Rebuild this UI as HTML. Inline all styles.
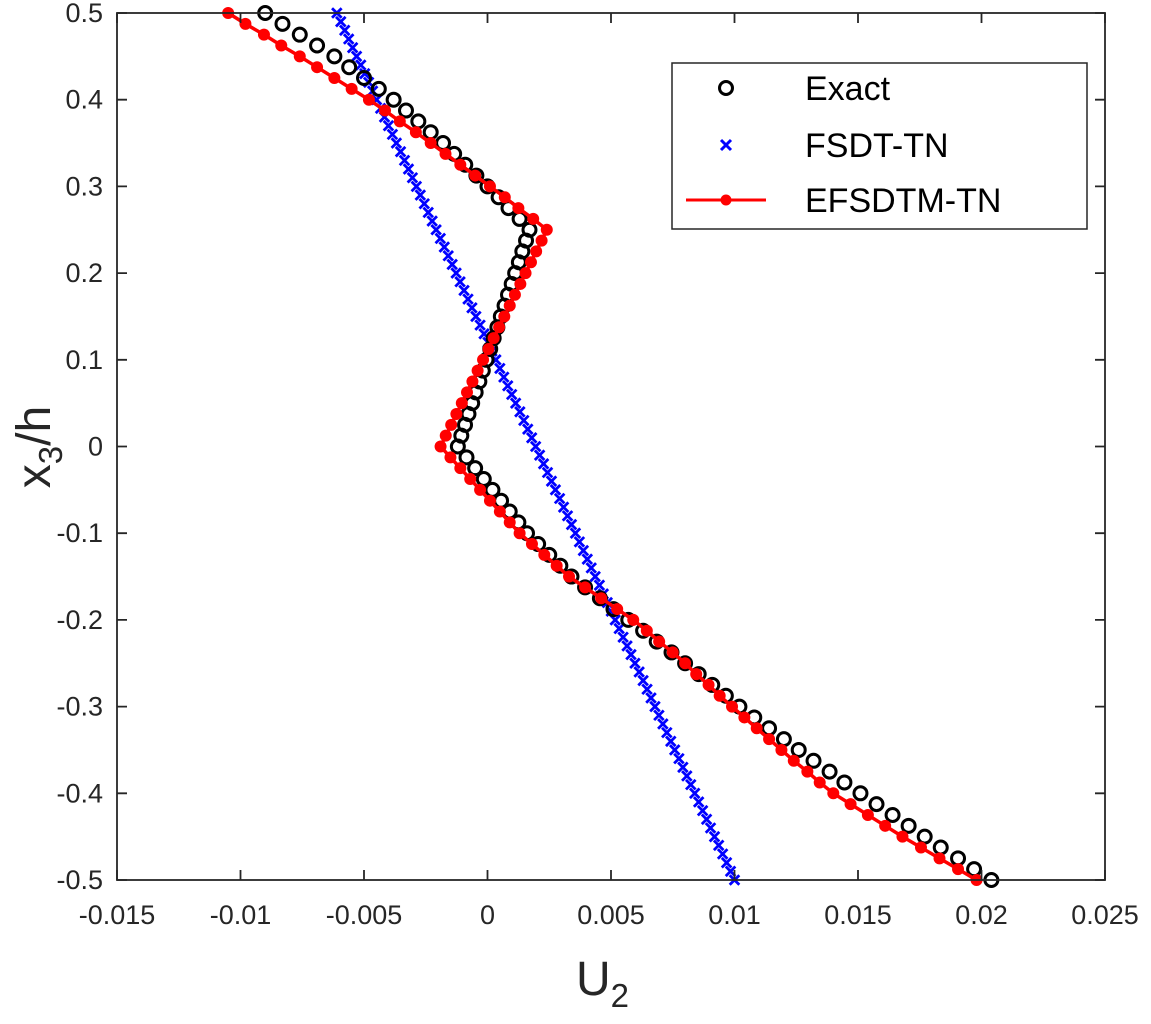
<!DOCTYPE html>
<html><head><meta charset="utf-8">
<style>
html,body{margin:0;padding:0;background:#fff;}
svg{display:block;font-family:"Liberation Sans",Arial,sans-serif;}
</style></head>
<body>
<svg id="chart" width="1151" height="1024" viewBox="0 0 1151 1024" xmlns="http://www.w3.org/2000/svg">
<rect x="0" y="0" width="1151" height="1024" fill="#fff"/>
<g id="plot"></g>
<g id="axes"></g>
<text x="576" y="995" font-size="48" fill="#262626">U<tspan font-size="33" dy="12">2</tspan></text>
<text transform="translate(50,447) rotate(-90)" text-anchor="middle" font-size="48" fill="#262626">x<tspan font-size="33" dy="12">3</tspan><tspan dy="-12">/h</tspan></text>
<g id="legend">
  <rect x="672" y="63" width="415" height="166" fill="#fff" stroke="#262626" stroke-width="1.5"/>
  <g>
    <circle cx="726" cy="88" r="6.5" fill="none" stroke="#000" stroke-width="3"/>
    <text x="805" y="100" font-size="34" fill="#000">Exact</text>
  </g>
  <g>
    <path d="M721 140 L731 150 M731 140 L721 150" stroke="#0000ff" stroke-width="3"/>
    <text x="805" y="157" font-size="34" fill="#000">FSDT-TN</text>
  </g>
  <g>
    <line x1="686" y1="200" x2="766" y2="200" stroke="#ff0000" stroke-width="3"/>
    <circle cx="726" cy="200" r="5.5" fill="#ff0000"/>
    <text x="805" y="212" font-size="34" fill="#000">EFSDTM-TN</text>
  </g>
</g>
</svg>
<script>
// values of U2 are in units of 1e-3
const xTickLabels = ["-0.015","-0.01","-0.005","0","0.005","0.01","0.015","0.02","0.025"];
const xTickValues = [-15,-10,-5,0,5,10,15,20,25];
const yTickLabels = ["0.5","0.4","0.3","0.2","0.1","0","-0.1","-0.2","-0.3","-0.4","-0.5"];
const yTickValues = [0.5,0.4,0.3,0.2,0.1,0,-0.1,-0.2,-0.3,-0.4,-0.5];
const exactU2 = [-9.0,-8.3,-7.6,-6.9,-6.2,-5.6,-5.0,-4.4,-3.8,-3.3,-2.8,-2.3,-1.8,-1.35,-0.9,-0.45,0.0,0.45,0.85,1.3,1.7,
1.56,1.41,1.27,1.12,0.98,0.83,0.69,0.54,0.40,0.25,0.11,-0.04,-0.19,-0.33,-0.48,-0.62,-0.77,-0.91,-1.06,-1.2,
-0.85,-0.5,-0.15,0.2,0.55,0.9,1.25,1.6,2.05,2.5,2.95,3.4,3.95,4.55,5.1,5.7,6.3,6.85,7.45,8.0,8.55,9.1,9.65,10.2,10.8,11.4,12.0,12.6,13.2,13.85,14.45,15.1,15.75,16.4,17.05,17.7,18.35,19.05,19.7,20.4];
const efsdtmU2 = [-10.5,-9.8,-9.05,-8.35,-7.6,-6.9,-6.2,-5.5,-4.8,-4.15,-3.55,-2.9,-2.3,-1.7,-1.1,-0.5,0.1,0.7,1.25,1.85,2.4,
2.19,1.97,1.76,1.54,1.33,1.11,0.90,0.68,0.47,0.25,0.04,-0.18,-0.40,-0.61,-0.83,-1.04,-1.26,-1.47,-1.69,-1.9,
-1.5,-1.1,-0.7,-0.3,0.1,0.5,0.9,1.3,1.8,2.3,2.8,3.3,3.95,4.6,5.25,5.9,6.45,6.95,7.5,8.0,8.45,8.95,9.4,9.9,10.4,10.9,11.4,11.9,12.4,12.95,13.45,14.0,14.7,15.4,16.1,16.8,17.55,18.3,19.05,19.8];
const fsdtU2 = [-6.10,-5.94,-5.78,-5.62,-5.46,-5.30,-5.13,-4.97,-4.81,-4.65,-4.49,-4.33,-4.17,-4.01,-3.85,-3.69,-3.52,-3.36,-3.20,-3.04,-2.88,
-2.72,-2.56,-2.40,-2.24,-2.08,-1.91,-1.75,-1.59,-1.43,-1.27,-1.11,-0.95,-0.79,-0.63,-0.47,-0.30,-0.14,0.02,0.18,0.34,
0.50,0.66,0.82,0.98,1.14,1.31,1.47,1.63,1.79,1.95,2.11,2.27,2.43,2.59,2.75,2.92,3.08,3.24,3.40,3.56,
3.72,3.88,4.04,4.20,4.36,4.53,4.69,4.85,5.01,5.17,5.33,5.49,5.65,5.81,5.97,6.14,6.30,6.46,6.62,6.78,
6.94,7.10,7.26,7.42,7.58,7.75,7.91,8.07,8.23,8.39,8.55,8.71,8.87,9.03,9.19,9.36,9.52,9.68,9.84,10.00];
const x3Start = 0.5;
const x3StepFine = 0.0125;
const x3StepFsdt = 0.01;

const L=117,R=1105,T=13,B=880;
const X = v => L + (v - (-15)) / 40 * (R - L);
const Y = v => T + (0.5 - v) / 1.0 * (B - T);
const NS="http://www.w3.org/2000/svg";
const plot=document.getElementById('plot'), axes=document.getElementById('axes');
function mk(tag, attrs, parent){const e=document.createElementNS(NS,tag);for(const k in attrs)e.setAttribute(k,attrs[k]);parent.appendChild(e);return e;}

const box=mk('rect',{x:L,y:T,width:R-L,height:B-T,fill:'none',stroke:'#262626','stroke-width':1.8},axes);


xTickValues.forEach((v,i)=>{
  const x=X(v);
  const t=mk('path',{d:`M${x} ${B} V${B-10} M${x} ${T} V${T+10}`,stroke:'#262626','stroke-width':1.8},axes);
  
  
  const lb=mk('text',{x:x,y:B+44,'text-anchor':'middle','font-size':27,fill:'#262626'},axes);
  lb.textContent=xTickLabels[i];
  
  
});
yTickValues.forEach((v,i)=>{
  const y=Y(v);
  const t=mk('path',{d:`M${L} ${y} H${L+10} M${R} ${y} H${R-10}`,stroke:'#262626','stroke-width':1.8},axes);
  
  
  const lb=mk('text',{x:L-14,y:y+9,'text-anchor':'end','font-size':27,fill:'#262626'},axes);
  lb.textContent=yTickLabels[i];
  
  
});

const gB=mk('g',{},plot);


fsdtU2.forEach((u,i)=>{
  const x=X(u),y=Y(x3Start - i*x3StepFsdt),s=4.8;
  const p=mk('path',{d:`M${x-s} ${y-s} L${x+s} ${y+s} M${x+s} ${y-s} L${x-s} ${y+s}`,stroke:'#0000ff','stroke-width':2.8},gB);
  
  
});

const gE=mk('g',{},plot);


exactU2.forEach((u,i)=>{
  const c=mk('circle',{cx:X(u),cy:Y(x3Start - i*x3StepFine),r:6.5,fill:'none',stroke:'#000','stroke-width':3},gE);
  
  
});

const gR=mk('g',{},plot);


const pts=efsdtmU2.map((u,i)=>`${X(u)},${Y(x3Start - i*x3StepFine)}`).join(' ');
const pl=mk('polyline',{points:pts,fill:'none',stroke:'#ff0000','stroke-width':3.5},gR);


efsdtmU2.forEach((u,i)=>{
  const c=mk('circle',{cx:X(u),cy:Y(x3Start - i*x3StepFine),r:6,fill:'#ff0000'},gR);
  
  
});
</script>
</body></html>
